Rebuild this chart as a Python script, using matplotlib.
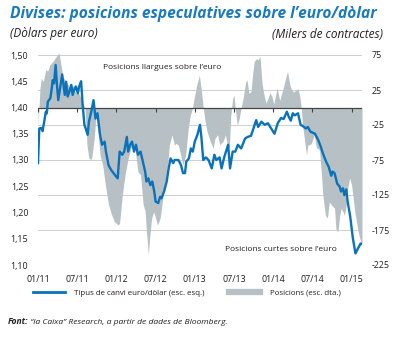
import matplotlib
matplotlib.use('Agg')
import matplotlib.pyplot as plt
from matplotlib.lines import Line2D

plt.rcParams['font.family'] = ['Open Sans', 'DejaVu Sans']

# months since 01/2011 and EUR/USD rate (left axis)
fx_month = [0.0, 0.2, 0.5, 0.7, 0.9, 1.2, 1.35, 1.5, 1.9, 2.1, 2.25, 2.45, 2.7, 2.9, 3.1, 3.3,
            3.7, 3.9, 4.1, 4.3, 4.55, 4.8, 5.1, 5.3, 5.6, 5.8, 6.1, 6.3, 6.6, 6.8, 7.1, 7.3,
            7.6, 7.8, 8.1, 8.5, 8.8, 9.1, 9.5, 9.8, 10.2, 10.4, 10.8, 11.2, 11.8, 12.2, 12.5,
            12.9, 13.2, 13.6, 13.8, 14.1, 14.4, 14.7, 15.0, 15.3, 15.7, 16.0, 16.4, 16.6, 16.9,
            17.2, 17.5, 17.8, 18.0, 18.4, 18.7, 18.9, 19.3, 19.7, 20.0, 20.3, 20.7, 20.9, 21.5,
            21.9, 22.2, 22.5, 22.7, 23.1, 23.4, 23.7, 24.0, 24.4, 24.8, 25.0, 25.3, 25.7, 26.1,
            26.6, 27.0, 27.3, 27.8, 28.1, 28.5, 29.1, 29.4, 29.8, 30.2, 30.6, 31.1, 31.7, 32.1,
            32.6, 32.9, 33.4, 33.7, 34.2, 34.7, 35.2, 35.7, 36.2, 36.7, 37.2, 37.6, 38.1, 38.4,
            38.7, 39.0, 39.3, 39.8, 40.2, 40.5, 41.0, 41.3, 41.7, 42.4, 42.9, 43.3, 43.6, 44.1,
            44.5, 44.9, 45.1, 45.4, 45.8, 46.2, 46.4, 46.7, 46.9, 47.2, 47.4, 47.8, 48.2, 48.6,
            49.0, 49.4, 49.6]
fx_rate = [1.294, 1.360, 1.361, 1.355, 1.370, 1.392, 1.389, 1.411, 1.418, 1.436, 1.452, 1.446,
           1.481, 1.443, 1.414, 1.430, 1.463, 1.443, 1.424, 1.449, 1.421, 1.430, 1.443, 1.424,
           1.436, 1.440, 1.427, 1.440, 1.450, 1.411, 1.367, 1.360, 1.348, 1.373, 1.389, 1.414,
           1.379, 1.389, 1.348, 1.329, 1.335, 1.316, 1.290, 1.281, 1.271, 1.265, 1.316, 1.310,
           1.316, 1.344, 1.316, 1.329, 1.335, 1.316, 1.329, 1.310, 1.316, 1.300, 1.278, 1.259,
           1.265, 1.252, 1.259, 1.240, 1.221, 1.218, 1.230, 1.227, 1.240, 1.259, 1.284, 1.303,
           1.294, 1.300, 1.300, 1.290, 1.275, 1.275, 1.297, 1.303, 1.322, 1.316, 1.335, 1.348,
           1.367, 1.345, 1.300, 1.305, 1.300, 1.284, 1.310, 1.300, 1.305, 1.284, 1.305, 1.329,
           1.284, 1.316, 1.316, 1.329, 1.322, 1.341, 1.344, 1.346, 1.357, 1.376, 1.363, 1.373,
           1.367, 1.370, 1.360, 1.350, 1.370, 1.380, 1.378, 1.392, 1.382, 1.375, 1.389, 1.385,
           1.389, 1.367, 1.365, 1.360, 1.363, 1.354, 1.350, 1.338, 1.325, 1.313, 1.297, 1.287,
           1.270, 1.278, 1.275, 1.255, 1.249, 1.240, 1.246, 1.233, 1.244, 1.221, 1.192, 1.151,
           1.122, 1.132, 1.141, 1.140]

# months since 01/2011 and speculative positions, thousands of contracts (right axis)
pos_month = [0.0, 0.15, 0.3, 0.5, 0.8, 1.2, 1.5, 1.8, 2.3, 2.8, 3.2, 3.4, 3.8, 4.3, 4.8, 5.3,
             5.8, 6.3, 6.8, 7.2, 7.5, 7.8, 8.2, 8.6, 8.9, 9.2, 9.5, 9.9, 10.3, 10.8, 11.3, 11.7,
             12.3, 12.5, 12.8, 13.1, 13.4, 13.8, 14.2, 14.6, 14.9, 15.3, 15.7, 16.1, 16.4, 16.6,
             16.9, 17.1, 17.4, 17.7, 18.0, 18.3, 18.7, 19.1, 19.4, 19.9, 20.1, 20.5, 20.9, 21.1,
             21.5, 21.9, 22.2, 22.6, 23.0, 23.3, 23.6, 23.9, 24.3, 24.7, 25.0, 25.3, 25.6, 25.9,
             26.4, 26.8, 27.1, 27.5, 27.8, 28.3, 28.7, 29.0, 29.3, 29.5, 29.8, 30.0, 30.2, 30.5,
             30.8, 31.1, 31.4, 31.8, 32.0, 32.3, 32.6, 32.9, 33.1, 33.5, 33.7, 34.0, 34.3, 34.6,
             34.9, 35.2, 35.5, 35.8, 36.1, 36.6, 37.0, 37.3, 37.6, 38.0, 38.2, 38.5, 38.7, 39.1,
             39.5, 39.8, 40.1, 40.3, 40.5, 40.8, 41.1, 41.3, 41.8, 42.3, 42.6, 43.1, 43.4, 43.6,
             44.0, 44.3, 44.6, 45.0, 45.4, 45.6, 45.9, 46.2, 46.4, 46.7, 46.9, 47.2, 47.4, 47.7,
             48.0, 48.5, 49.0, 49.4, 49.6]
positions = [-25, 0, 27, 42, 37, 54, 52, 61, 66, 73, 78, 68, 44, 37, 30, 32,
             20, 20, 6, 0, -54, -73, -74, -45, -7, -36, -68, -82, -110, -139, -154, -163,
             -168, -165, -135, -111, -92, -73, -58, -54, -62, -92, -96, -139, -148, -177,
             -211, -185, -158, -149, -158, -168, -158, -130, -111, -77, -54, -39, -54, -51,
             -54, -70, -82, -68, -30, -12, -2, 13, 32, 46, 25, 0, -21, -35,
             -49, -58, -44, -39, -53, -49, -39, -54, -58, -13, 13, 18, -2, -25,
             -16, 0, 13, 37, 39, 20, 23, 51, 66, 70, 68, 73, 34, 18,
             6, 13, 21, 16, 5, 28, 10, 20, 30, 45, 52, 35, 28, 22,
             25, 27, 15, 0, -25, -46, -68, -54, -52, -39, -57, -61, -96, -125,
             -154, -158, -135, -140, -144, -173, -178, -154, -144, -149, -154, -139, -116, -101,
             -110, -149, -177, -192, -195]

tick_month = [0, 6, 12, 18, 24, 30, 36, 42, 48]
tick_label = ['01/11', '07/11', '01/12', '07/12', '01/13', '07/13', '01/14', '07/14', '01/15']
left_ticks = [1.10, 1.15, 1.20, 1.25, 1.30, 1.35, 1.40, 1.45, 1.50]
right_ticks = [-225, -175, -125, -75, -25, 25, 75]

blue = '#0a72ba'
gray = '#b7c1c5'
dark = '#231f20'

fig = plt.figure(figsize=(4.02, 3.38), dpi=100)
ax = fig.add_axes([38 / 402, 1 - 265 / 338, 324 / 402, 210 / 338])
ax2 = ax.twinx()

# positions (right axis), grid behind
ax2.set_axisbelow(True)
ax2.fill_between(pos_month, 0, positions, color=gray, lw=0, clip_on=False)
ax2.axhline(0, color='#444444', lw=0.9)
ax2.plot(tick_month, [0] * len(tick_month), ls='none', marker=3, ms=3, mew=0.8, color='#444444')
ax2.set_ylim(-225, 75)
ax2.set_yticks(right_ticks)
ax2.set_yticklabels([str(t) for t in right_ticks])
ax2.grid(axis='y', color='#cfcfcf', lw=0.7)
ax2.tick_params(axis='y', length=0, pad=7, labelsize=6.4, labelcolor=dark)
for lab in ax2.get_yticklabels():
    lab.set_horizontalalignment('left')

# exchange rate (left axis) on top
ax.set_zorder(ax2.get_zorder() + 1)
ax.patch.set_visible(False)
ax.plot(fx_month, fx_rate, color=blue, lw=1.7, solid_joinstyle='round')
ax.set_ylim(1.10, 1.50)
ax.set_xlim(0, 49.6)
ax.set_yticks(left_ticks)
ax.set_yticklabels([f'{t:.2f}'.replace('.', ',') for t in left_ticks])
ax.set_xticks(tick_month)
ax.set_xticklabels(tick_label)
ax.tick_params(axis='y', length=0, pad=7, labelsize=6.4, labelcolor=dark)
ax.tick_params(axis='x', length=0, pad=7, labelsize=6.4, labelcolor=dark)

for a in (ax, ax2):
    for s in a.spines.values():
        s.set_visible(False)

ax.text(19.0, 1.477, 'Posicions llargues sobre l’euro', ha='center', va='center',
        fontsize=6.0, color=dark)
ax.text(37.2, 1.129, 'Posicions curtes sobre l’euro', ha='center', va='center',
        fontsize=6.0, color=dark)

fig.text(10 / 402, 1 - 14 / 338, 'Divises: posicions especulatives sobre l’euro/dòlar',
         fontsize=11.2, fontweight='bold', style='italic', color='#1a7ac0', va='center')
fig.text(10 / 402, 1 - 34 / 338, '(Dòlars per euro)', fontsize=8.5, style='italic',
         color=dark, va='center')
fig.text(383 / 402, 1 - 34 / 338, '(Milers de contractes)', fontsize=8.5, style='italic',
         color=dark, va='center', ha='right')

handles = [Line2D([], [], color=blue, lw=2), Line2D([], [], color=gray, lw=4.5)]
fig.legend(handles, ['Tipus de canvi euro/dòlar (esc. esq.)', 'Posicions (esc. dta.)'],
           loc='center', bbox_to_anchor=(187 / 402, 1 - 293 / 338), ncol=2, frameon=False,
           fontsize=5.7, handlelength=4, handletextpad=1.2, columnspacing=3,
           labelcolor=dark)

t1 = fig.text(8 / 402, 1 - 322 / 338, 'Font:', fontsize=6.1, fontweight='bold',
              style='italic', color=dark, va='center')
ax.annotate(' “la Caixa” Research, a partir de dades de Bloomberg.', xy=(1, 0.5),
            xycoords=t1, va='center', fontsize=6.1, style='italic', color=dark,
            annotation_clip=False)

fig.savefig('out.png', dpi=100)
